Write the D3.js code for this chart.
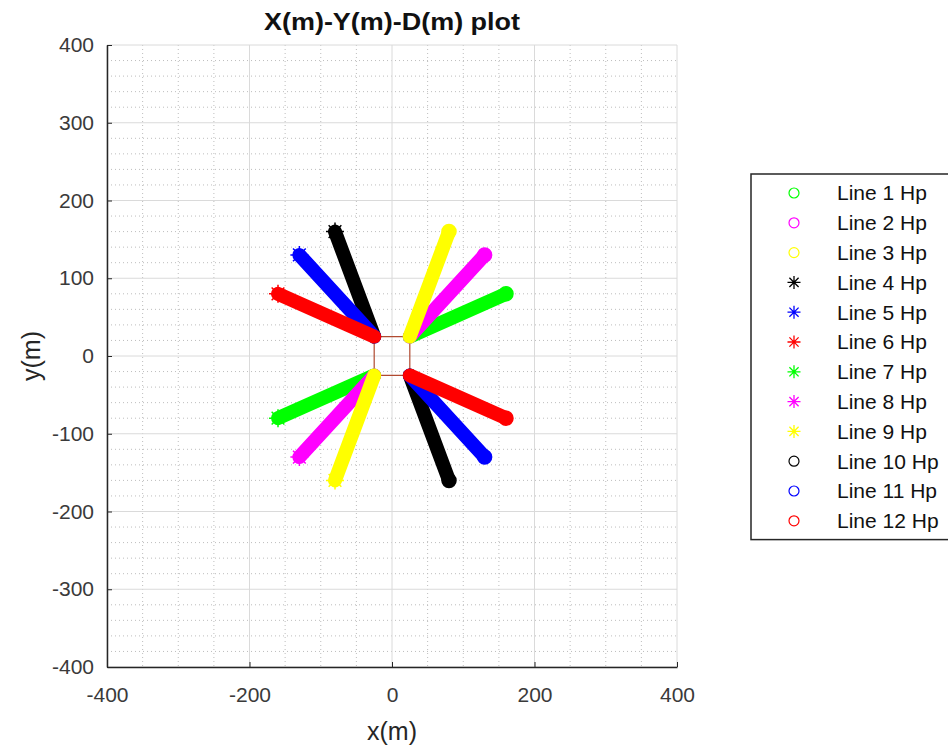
<!DOCTYPE html>
<html>
<head>
<meta charset="utf-8">
<script src="https://cdn.jsdelivr.net/npm/d3@7"></script>
<style>
  html, body { margin: 0; padding: 0; background: #ffffff; }
  svg { display: block; }
  text { font-family: "Liberation Sans", Arial, Helvetica, sans-serif; }
</style>
</head>
<body>
<svg id="chart" width="948" height="751"></svg>
<script>
// ---------------- data ----------------
const lineNames = ["Line 1 Hp","Line 2 Hp","Line 3 Hp","Line 4 Hp","Line 5 Hp","Line 6 Hp",
                   "Line 7 Hp","Line 8 Hp","Line 9 Hp","Line 10 Hp","Line 11 Hp","Line 12 Hp"];
const startX = [25, 25, 25, -25, -25, -25, -25, -25, -25, 25, 25, 25];
const startY = [25, 25, 25, 25, 25, 25, -25, -25, -25, -25, -25, -25];
const endX   = [160, 130, 80, -80, -130, -160, -160, -130, -80, 80, 130, 160];
const endY   = [80, 130, 160, 160, 130, 80, -80, -130, -160, -160, -130, -80];
const lineColors  = ["#00ff00","#ff00ff","#ffff00","#000000","#0000ff","#ff0000",
                     "#00ff00","#ff00ff","#ffff00","#000000","#0000ff","#ff0000"];
const lineMarkers = ["o","o","o","*","*","*","*","*","*","o","o","o"];
const squareX = [-25, 25, 25, -25, -25];
const squareY = [25, 25, -25, -25, 25];
const xTicks = [-400, -200, 0, 200, 400];
const yTicks = [-400, -300, -200, -100, 0, 100, 200, 300, 400];
const xMinor = d3.range(-400, 401, 50);
const yMinor = d3.range(-400, 401, 20);

// ---------------- layout ----------------
const svg = d3.select("#chart");
const L = 107, R = 677, T = 45, B = 667;
const x = d3.scaleLinear().domain([-400, 400]).range([L, R]);
const y = d3.scaleLinear().domain([-400, 400]).range([B, T]);

// minor grid (dotted)
const grid = svg.append("g");
grid.selectAll("line.mx").data(xMinor.filter(v => !xTicks.includes(v))).join("line")
  .attr("x1", d => x(d)).attr("x2", d => x(d)).attr("y1", T).attr("y2", B)
  .attr("stroke", "#bdbdbd").attr("stroke-width", 1).attr("stroke-dasharray", "1,3");
grid.selectAll("line.my").data(yMinor.filter(v => !yTicks.includes(v))).join("line")
  .attr("y1", d => y(d)).attr("y2", d => y(d)).attr("x1", L).attr("x2", R)
  .attr("stroke", "#bdbdbd").attr("stroke-width", 1).attr("stroke-dasharray", "1,3");
// major grid (solid)
grid.selectAll("line.gx").data(xTicks).join("line")
  .attr("x1", d => x(d)).attr("x2", d => x(d)).attr("y1", T).attr("y2", B)
  .attr("stroke", "#dadada").attr("stroke-width", 1);
grid.selectAll("line.gy").data(yTicks).join("line")
  .attr("y1", d => y(d)).attr("y2", d => y(d)).attr("x1", L).attr("x2", R)
  .attr("stroke", "#dadada").attr("stroke-width", 1);

// axes
const fmt = d => String(d);
const xAxis = d3.axisBottom(x).tickValues(xTicks).tickFormat(fmt).tickSizeInner(-5).tickSizeOuter(0).tickPadding(20);
const yAxis = d3.axisLeft(y).tickValues(yTicks).tickFormat(fmt).tickSizeInner(-5).tickSizeOuter(0).tickPadding(13);
const gx = svg.append("g").attr("transform", `translate(0,${B})`).call(xAxis);
const gy = svg.append("g").attr("transform", `translate(${L},0)`).call(yAxis);
[gx, gy].forEach(g => {
  g.select(".domain").attr("stroke", "#262626").attr("stroke-width", 1.5);
  g.selectAll(".tick line").attr("stroke", "#262626");
  g.selectAll(".tick text").attr("fill", "#3a3a3a").style("font-size", "21px")
    .style("font-family", "'Liberation Sans', Arial, sans-serif");
});

// square
svg.append("path")
  .attr("d", d3.line().x(i => x(squareX[i])).y(i => y(squareY[i]))(d3.range(squareX.length)))
  .attr("fill", "none").attr("stroke", "#b04a30").attr("stroke-width", 1.2);

// bands
const plot = svg.append("g");
const idx = d3.range(lineNames.length);
plot.selectAll("line.band").data(idx).join("line")
  .attr("x1", i => x(startX[i])).attr("y1", i => y(startY[i]))
  .attr("x2", i => x(endX[i])).attr("y2", i => y(endY[i]))
  .attr("stroke", i => lineColors[i]).attr("stroke-width", 14).attr("stroke-linecap", "round");

function starPath(r) {
  const d = r * Math.SQRT1_2;
  return `M${-r},0L${r},0M0,${-r}L0,${r}M${-d},${-d}L${d},${d}M${-d},${d}L${d},${-d}`;
}
// tip markers
idx.forEach(i => {
  const g = plot.append("g").attr("transform", `translate(${x(endX[i])},${y(endY[i])})`);
  if (lineMarkers[i] === "o") {
    g.append("circle").attr("r", 7).attr("fill", "none")
      .attr("stroke", lineColors[i]).attr("stroke-width", 1.5);
  } else {
    g.append("path").attr("d", starPath(9)).attr("stroke", lineColors[i])
      .attr("stroke-width", 1.5).attr("fill", "none");
  }
});

// title & labels
svg.append("text").attr("x", (L + R) / 2).attr("y", 30).attr("text-anchor", "middle")
  .attr("textLength", 256).attr("lengthAdjust", "spacingAndGlyphs")
  .style("font-size", "23px").style("font-weight", "bold").attr("fill", "#111")
  .text("X(m)-Y(m)-D(m) plot");
svg.append("text").attr("x", (L + R) / 2).attr("y", 740).attr("text-anchor", "middle")
  .style("font-size", "25px").attr("fill", "#262626").text("x(m)");
svg.append("text").attr("transform", `translate(40,${(T + B) / 2}) rotate(-90)`)
  .attr("text-anchor", "middle").style("font-size", "25px").attr("fill", "#262626").text("y(m)");

// legend
const legX = 751, legY = 174, rowH = 29.8;
const leg = svg.append("g");
leg.append("rect").attr("x", legX).attr("y", legY).attr("width", 210)
  .attr("height", rowH * lineNames.length + 8)
  .attr("fill", "#ffffff").attr("stroke", "#262626").attr("stroke-width", 1.5);
const rows = leg.selectAll("g.row").data(idx).join("g")
  .attr("transform", i => `translate(${legX},${legY + 19 + i * rowH})`);
rows.each(function(i) {
  const g = d3.select(this);
  if (lineMarkers[i] === "o") {
    g.append("circle").attr("cx", 43).attr("cy", 0).attr("r", 5).attr("fill", "none")
      .attr("stroke", lineColors[i]).attr("stroke-width", 1.2);
  } else {
    g.append("path").attr("transform", "translate(43,0)").attr("d", starPath(6.5))
      .attr("stroke", lineColors[i]).attr("stroke-width", 1.3).attr("fill", "none");
  }
  g.append("text").attr("x", 86).attr("y", 0).attr("dy", "0.35em")
    .style("font-size", "21px").attr("fill", "#111").text(lineNames[i]);
});
</script>
</body>
</html>
